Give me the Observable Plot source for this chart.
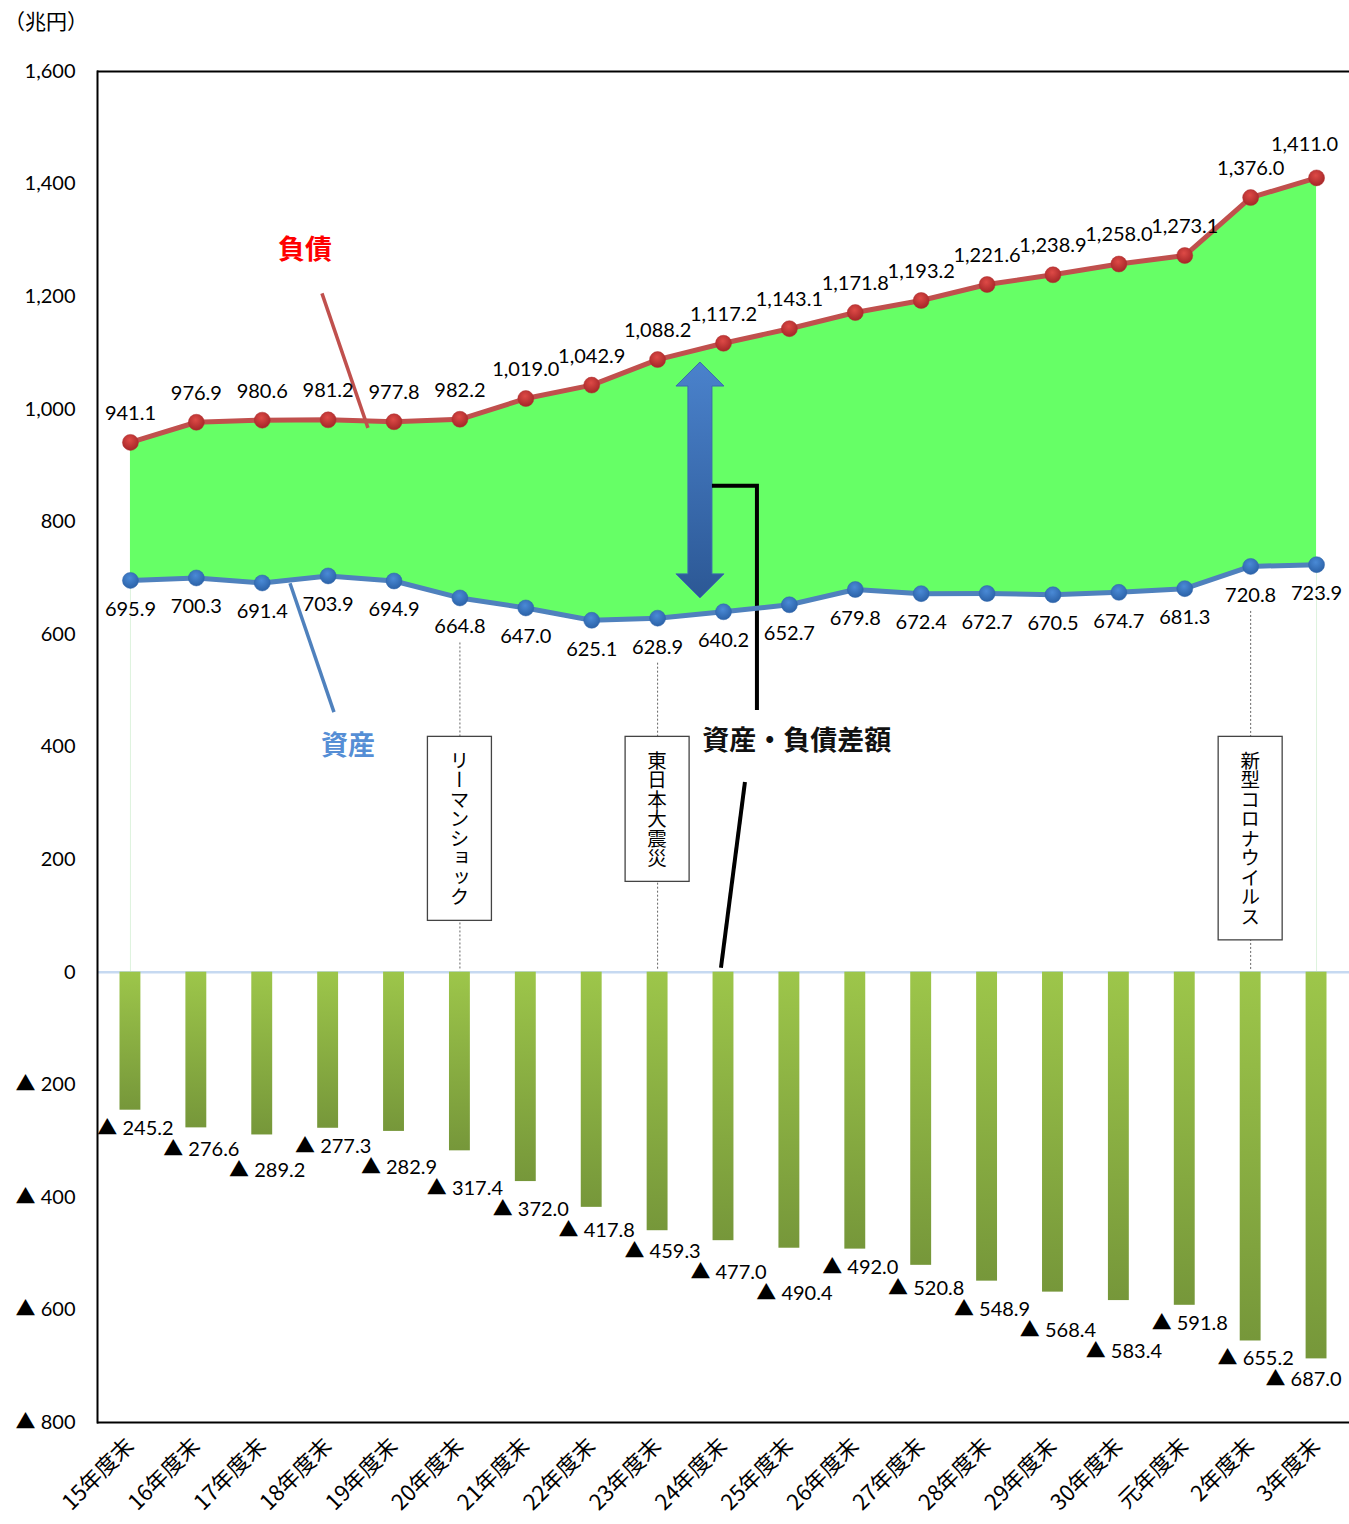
<!DOCTYPE html>
<html>
<head>
<meta charset="utf-8">
<script src="https://cdn.jsdelivr.net/npm/d3@7"></script>
<script src="https://cdn.jsdelivr.net/npm/@observablehq/plot@0.6"></script>
<style>
  body { margin: 0; background: #fff; }
  #chart svg { display: block; }
</style>
</head>
<body>
<div id="chart"></div>
<script>
// ---- data ----
const years = ["15年度末","16年度末","17年度末","18年度末","19年度末","20年度末","21年度末","22年度末","23年度末","24年度末","25年度末","26年度末","27年度末","28年度末","29年度末","30年度末","元年度末","2年度末","3年度末"];
const liabilities = [941.1,976.9,980.6,981.2,977.8,982.2,1019.0,1042.9,1088.2,1117.2,1143.1,1171.8,1193.2,1221.6,1238.9,1258.0,1273.1,1376.0,1411.0];
const assets = [695.9,700.3,691.4,703.9,694.9,664.8,647.0,625.1,628.9,640.2,652.7,679.8,672.4,672.7,670.5,674.7,681.3,720.8,723.9];
const netDiff = [245.2,276.6,289.2,277.3,282.9,317.4,372.0,417.8,459.3,477.0,490.4,492.0,520.8,548.9,568.4,583.4,591.8,655.2,687.0];
const yTicks = [-800,-600,-400,-200,0,200,400,600,800,1000,1200,1400,1600];
const eventYears = ["20年度末","23年度末","2年度末"];
const eventNames = ["リーマンショック","東日本大震災","新型コロナウイルス"];
const unitLabel = "（兆円）";
const liabLabel = "負債";
const assetLabel = "資産";
const diffLabel = "資産・負債差額";

const W = 1349, H = 1524, MT = 71, MB = 102, ML = 97, MR = 0;
const yDomain = [-800, 1600];

const rows = years.map((year, i) => ({year, liab: liabilities[i], asset: assets[i], diff: netDiff[i], i}));
const events = eventYears.map((year, i) => ({year, name: eventNames[i], asset: assets[years.indexOf(year)]}));
const edge = [rows[0], rows[rows.length - 1]];
const last = rows.length - 1;
const inner = rows.filter(d => d.i < last);
const final = rows.filter(d => d.i === last);

// simple collision avoidance for the difference labels (computed, stacked downward when too close)
const pxPerUnit = (H - MT - MB) / (yDomain[1] - yDomain[0]);
const labelGap = 21;
const diffLabelDepth = [];
netDiff.forEach((v, i) => {
  let yPx = v * pxPerUnit + 18;
  if (i > 0) {
    const prev = diffLabelDepth[i - 1] * pxPerUnit;
    if (Math.abs(yPx - prev) < labelGap) yPx = prev + labelGap;
  }
  diffLabelDepth.push(yPx / pxPerUnit);
});

const FONT = "Lato, 'Noto Sans CJK JP', sans-serif";
const JFONT = "'Noto Sans CJK JP', sans-serif";
const fmt = d3.format(",.1f");
const yFmt = d => d < 0 ? "▲ " + d3.format(",")(-d) : d3.format(",")(d);

function defs() {
  const d = d3.create("svg:defs");
  const bg = d.append("linearGradient").attr("id", "barGrad").attr("x1", 0).attr("y1", 0).attr("x2", 0).attr("y2", 1);
  bg.append("stop").attr("offset", "0%").attr("stop-color", "#9DC64A");
  bg.append("stop").attr("offset", "100%").attr("stop-color", "#76973A");
  const rg = d.append("radialGradient").attr("id", "redDot").attr("cx", "45%").attr("cy", "35%").attr("r", "65%");
  rg.append("stop").attr("offset", "0%").attr("stop-color", "#DE4A46");
  rg.append("stop").attr("offset", "100%").attr("stop-color", "#A52628");
  const bd = d.append("radialGradient").attr("id", "blueDot").attr("cx", "45%").attr("cy", "35%").attr("r", "65%");
  bd.append("stop").attr("offset", "0%").attr("stop-color", "#4A8AD6");
  bd.append("stop").attr("offset", "100%").attr("stop-color", "#2B62A8");
  const ag = d.append("linearGradient").attr("id", "arrowGrad").attr("x1", 0).attr("y1", 0).attr("x2", 0).attr("y2", 1);
  ag.append("stop").attr("offset", "0%").attr("stop-color", "#4A82CC");
  ag.append("stop").attr("offset", "100%").attr("stop-color", "#2C5895");
  return d.node();
}

function annotations(index, scales) {
  const bw = scales.x.bandwidth();
  const x0 = scales.x(years[0]);
  const px = i => x0 + bw * (i + 0.5);
  const py = v => scales.y(v);
  const g = d3.create("svg:g").attr("text-anchor", "start");

  // event boxes with vertical text
  const fs = 19.5;
  events.forEach(e => {
    const cx = scales.x(e.year) + bw / 2;
    const top = py(418);
    const n = e.name.length;
    const h = n * fs + 28;
    g.append("rect").attr("x", cx - 32).attr("y", top).attr("width", 64).attr("height", h)
      .attr("fill", "#fff").attr("stroke", "#444").attr("stroke-width", 1.3);
    g.append("text").attr("x", cx).attr("y", top + 14)
      .attr("style", "writing-mode: vertical-rl; text-orientation: mixed;")
      .attr("text-anchor", "start")
      .attr("font-family", JFONT).attr("font-size", fs).attr("fill", "#000")
      .text(e.name);
  });

  // 負債 label + leader
  g.append("text").attr("x", px(2.656)).attr("y", py(1282)).attr("dy", "0.35em")
    .attr("text-anchor", "middle").attr("font-family", JFONT).attr("font-size", 27)
    .attr("font-weight", "bold").attr("fill", "#FF0000").text(liabLabel);
  g.append("line").attr("x1", px(2.914)).attr("y1", py(1205)).attr("x2", px(3.612)).attr("y2", py(966))
    .attr("stroke", "#C0504D").attr("stroke-width", 3.5);

  // 資産 label + leader
  g.append("text").attr("x", px(3.309)).attr("y", py(401)).attr("dy", "0.35em")
    .attr("text-anchor", "middle").attr("font-family", JFONT).attr("font-size", 27)
    .attr("font-weight", "bold").attr("fill", "#558ED5").text(assetLabel);
  g.append("line").attr("x1", px(2.429)).attr("y1", py(690)).attr("x2", px(3.096)).attr("y2", py(461))
    .attr("stroke", "#4F81BD").attr("stroke-width", 3.5);

  // block double arrow
  const ax = px(8.65);
  const yt = py(1083), yb = py(664);
  const sw = 12, hw = 24, hh = 24;
  const path = [
    [ax, yt], [ax + hw, yt + hh], [ax + sw, yt + hh], [ax + sw, yb - hh], [ax + hw, yb - hh],
    [ax, yb], [ax - hw, yb - hh], [ax - sw, yb - hh], [ax - sw, yt + hh], [ax - hw, yt + hh]
  ];
  g.append("path").attr("d", "M" + path.map(p => p.join(",")).join("L") + "Z")
    .attr("fill", "url(#arrowGrad)").attr("stroke", "#3A6AAE").attr("stroke-width", 1);

  // connector from arrow to label
  const cxr = px(9.515);
  g.append("path")
    .attr("d", `M${ax + sw},${py(863)}L${cxr},${py(863)}L${cxr},${py(465)}`)
    .attr("fill", "none").attr("stroke", "#000").attr("stroke-width", 4);
  g.append("text").attr("x", px(10.12)).attr("y", py(410)).attr("dy", "0.35em")
    .attr("text-anchor", "middle").attr("font-family", JFONT).attr("font-size", 27)
    .attr("font-weight", "bold").attr("fill", "#111").text(diffLabel);
  g.append("line").attr("x1", px(9.333)).attr("y1", py(337)).attr("x2", px(8.969)).attr("y2", py(7))
    .attr("stroke", "#000").attr("stroke-width", 4);

  // unit label
  g.append("text").attr("x", 4).attr("y", 22).attr("dy", "0.35em").attr("text-anchor", "start")
    .attr("font-family", JFONT).attr("font-size", 21).attr("fill", "#000").text(unitLabel);
  return g.node();
}

const chart = Plot.plot({
  width: W,
  height: H,
  marginTop: MT,
  marginBottom: MB,
  marginLeft: ML,
  marginRight: MR,
  style: {fontFamily: FONT, fontSize: "20px", color: "#000", background: "#fff"},
  x: {domain: years, padding: 0, round: false, label: null},
  y: {domain: yDomain, label: null},
  marks: [
    defs,
    Plot.areaY(rows, {x: "year", y1: "asset", y2: "liab", fill: "#66FF66"}),
    Plot.ruleX(edge, {x: "year", y1: 0, y2: "asset", stroke: "#DDF3DD", strokeWidth: 1}),
    Plot.ruleY([0], {stroke: "#C6D9F1", strokeWidth: 2.5}),
    Plot.barY(rows, {x: "year", y: d => -d.diff, fill: "url(#barGrad)", insetLeft: 22.5, insetRight: 22.5}),
    Plot.ruleX(events, {x: "year", y1: d => d.asset - 80, y2: 2, stroke: "#666", strokeWidth: 1, strokeDasharray: "2,2"}),
    annotations,
    Plot.line(rows, {x: "year", y: "liab", stroke: "#C0504D", strokeWidth: 5}),
    Plot.line(rows, {x: "year", y: "asset", stroke: "#4F81BD", strokeWidth: 5}),
    Plot.dot(rows, {x: "year", y: "liab", r: 8, fill: "url(#redDot)", stroke: "#B03030", strokeWidth: 0.5}),
    Plot.dot(rows, {x: "year", y: "asset", r: 8, fill: "url(#blueDot)", stroke: "#2F65AA", strokeWidth: 0.5}),
    Plot.text(inner, {x: "year", y: "liab", text: d => fmt(d.liab), dy: -29, fontSize: 20, fill: "#000"}),
    Plot.text(final, {x: "year", y: "liab", text: d => fmt(d.liab), dy: -33, dx: -12, fontSize: 20, fill: "#000"}),
    Plot.text(rows, {x: "year", y: "asset", text: d => fmt(d.asset), dy: 29, fontSize: 20, fill: "#000"}),
    Plot.text(inner, {x: "year", y: d => -diffLabelDepth[d.i], text: d => "▲ " + fmt(d.diff), dx: 5, fontSize: 20, fill: "#000"}),
    Plot.text(final, {x: "year", y: d => -diffLabelDepth[d.i], text: d => "▲ " + fmt(d.diff), dx: -13, fontSize: 20, fill: "#000"}),
    Plot.axisX({tickRotate: -45, tickSize: 0, tickPadding: 20, fontSize: 22, label: null, fontFamily: JFONT}),
    Plot.axisY({ticks: yTicks, tickFormat: yFmt, tickSize: 0, tickPadding: 22, fontSize: 20, label: null}),
    Plot.ruleY([1600, -800], {stroke: "#000", strokeWidth: 2}),
    Plot.frame({anchor: "left", stroke: "#000", strokeWidth: 2})
  ]
});
document.getElementById("chart").appendChild(chart);
</script>
</body>
</html>
